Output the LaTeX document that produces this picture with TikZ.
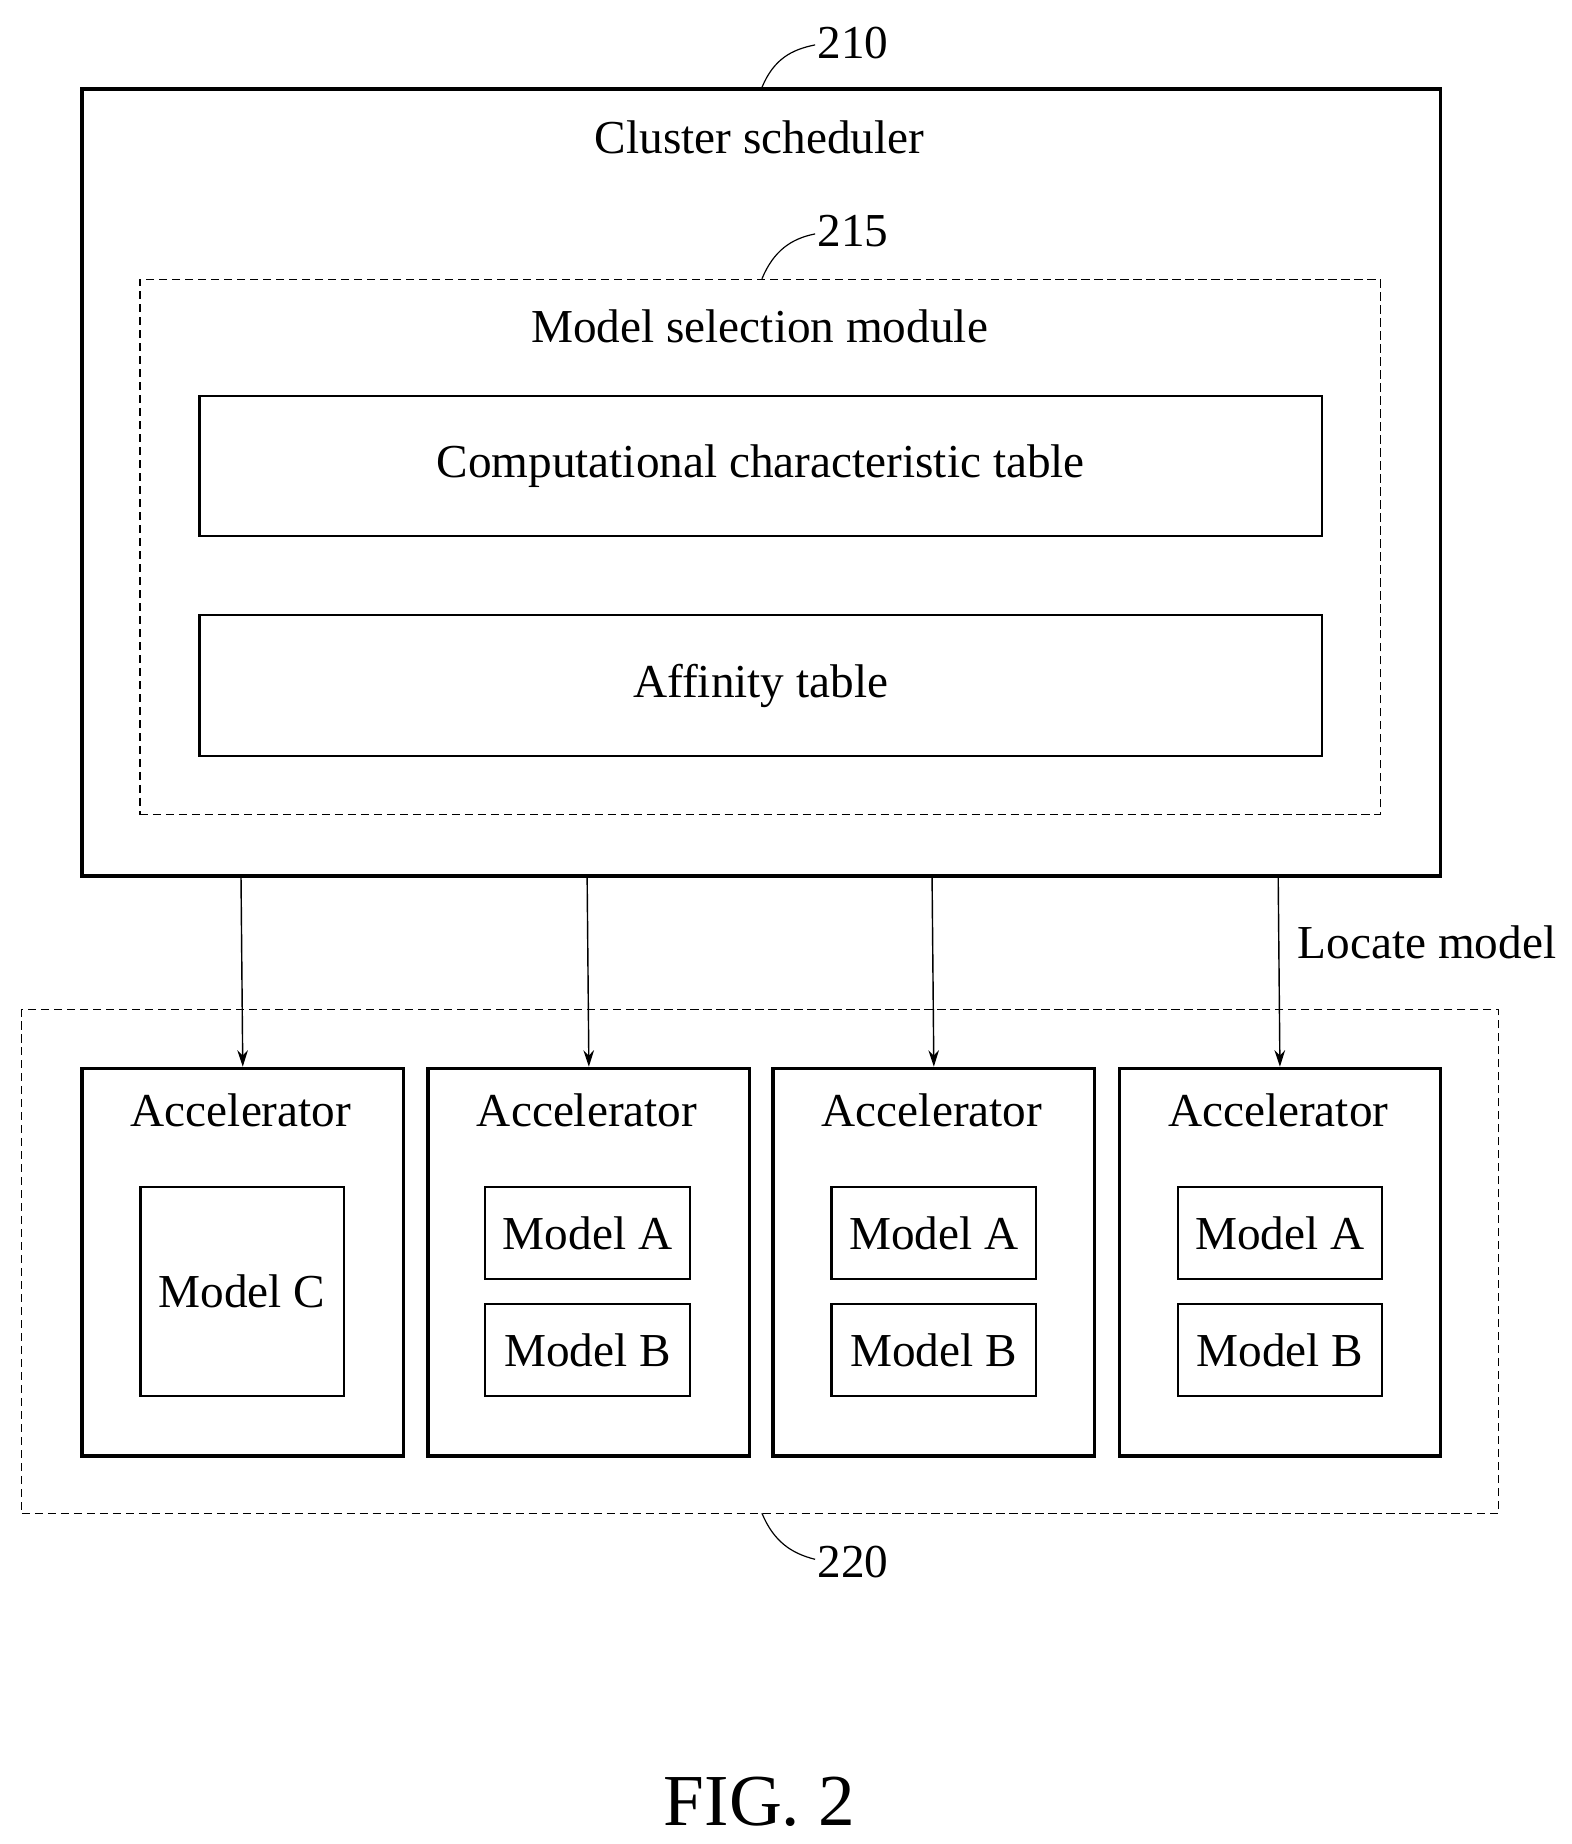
\documentclass[tikz,border=0pt]{standalone}
\usepackage{fontspec}
\setmainfont{Liberation Serif}
\usetikzlibrary{arrows.meta}
\begin{document}
\begin{tikzpicture}[x=1pt,y=-1pt,
  txt/.style={font=\fontsize{40}{44}\selectfont,inner sep=0},
  thick box/.style={draw,line width=3pt},
  thin box/.style={draw,line width=1.8pt},
  dbox/.style={draw,line width=1pt,dash pattern=on 7pt off 4pt},
  arr/.style={line width=1.2pt,-{Stealth[length=14pt,width=9pt]}},
  lead/.style={line width=1pt}]
\useasboundingbox (0,0) rectangle (1330,1561);
\node[thick box,minimum width=1150,minimum height=666,anchor=north west,inner sep=0] (cs) at (68,74) {};
\node[txt] (cst) at (643,116) {Cluster scheduler};
\node[txt] (l210) at (722,36) {210};
\draw[lead] (645,74) .. controls (655,50) and (670,42) .. (690,38);
\node[dbox,minimum width=1050,minimum height=453,anchor=north west,inner sep=0] (ms) at (118,236) {};
\node[txt] (mst) at (643,276) {Model selection module};
\node[txt] (l215) at (722,196) {215};
\draw[lead] (645,236) .. controls (655,212) and (670,202) .. (690,198);
\node[thin box,minimum width=950,minimum height=119,anchor=north west,inner sep=0] (ct) at (168,334) {};
\node[txt] at (ct.center) {Computational characteristic table};
\node[thin box,minimum width=950,minimum height=119,anchor=north west,inner sep=0] (at) at (168,520) {};
\node[txt] at (at.center) {Affinity table};
\node[dbox,minimum width=1250,minimum height=427,anchor=north west,inner sep=0] (g) at (18,854) {};
\node[txt] (l220) at (722,1322) {220};
\draw[lead] (645,1281) .. controls (655,1305) and (670,1315) .. (690,1320);
\foreach \i/\x in {1/68,2/361,3/653,4/946}{
  \node[thick box,minimum width=272,minimum height=328,anchor=north west,inner sep=0] (acc\i) at (\x,903) {};
  \node[txt] at (\x+136,940) {Accelerator};
  \coordinate (top\i) at (\x+136,740);
  \draw[arr] (top\i) -- (acc\i.north);
}
\node[thin box,minimum width=172,minimum height=177,anchor=north west,inner sep=0] (mc) at (118,1004) {};
\node[txt] at (mc.center) {Model C};
\foreach \i/\x in {2/410,3/703,4/996}{
  \node[thin box,minimum width=173,minimum height=78,anchor=north west,inner sep=0] (ma\i) at (\x,1004) {};
  \node[txt] at (ma\i.center) {Model A};
  \node[thin box,minimum width=173,minimum height=78,anchor=north west,inner sep=0] (mb\i) at (\x,1103) {};
  \node[txt] at (mb\i.center) {Model B};
}
\node[txt] (loc) at (1208,798) {Locate model};
\node[font=\fontsize{62}{66}\selectfont,inner sep=0] (fig) at (643,1525) {FIG. 2};
\end{tikzpicture}
\end{document}
